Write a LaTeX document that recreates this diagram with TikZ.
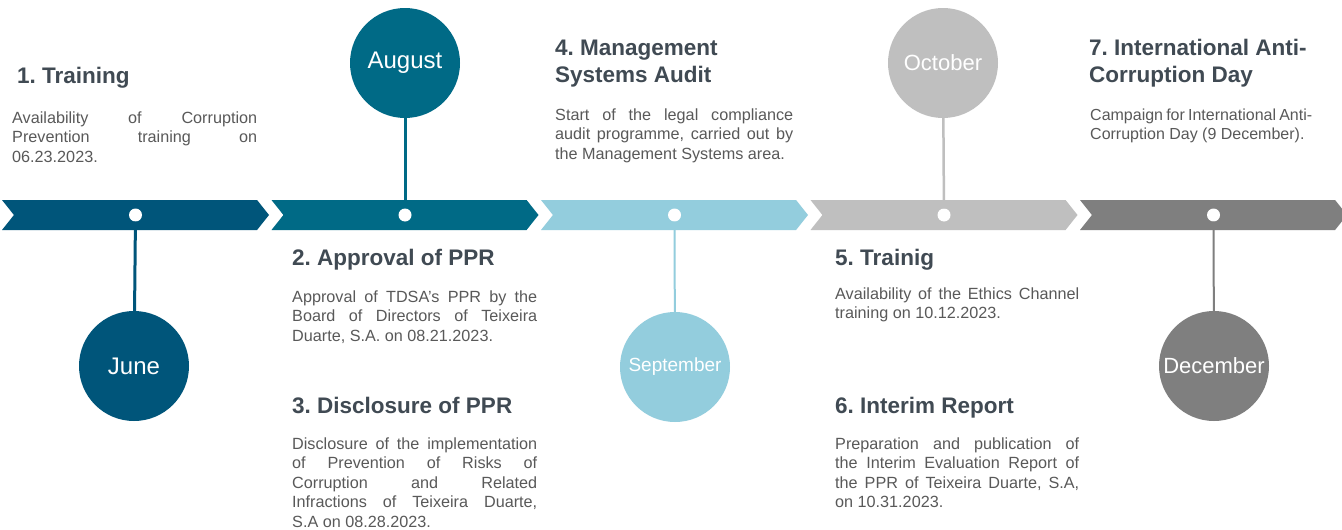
\documentclass[tikz,border=0pt]{standalone}
\usepackage{fontspec}
\setmainfont{Liberation Sans}
\usepackage{tikz}
\definecolor{junecol}{HTML}{00557A}
\definecolor{augcol}{HTML}{006A86}
\definecolor{sepcol}{HTML}{93CDDD}
\definecolor{octcol}{HTML}{BFBFBF}
\definecolor{deccol}{HTML}{7F7F7F}
\definecolor{headgrey}{HTML}{404A53}
\definecolor{textgrey}{HTML}{595959}
\usetikzlibrary{shapes}
\tikzstyle{chev}=[signal, signal from=west, signal to=east, signal pointer angle=103, minimum width=267pt, minimum height=30pt, inner sep=0pt]
\tikzstyle{dot}=[circle, fill=white, minimum size=13pt, inner sep=0pt]
\tikzstyle{month}=[circle, minimum size=110pt, inner sep=0pt, text=white]
\tikzstyle{stem}=[line width=3pt]
\tikzstyle{head}=[anchor=base west, inner sep=0pt, text=headgrey, align=left, font={\bfseries\fontsize{22.5}{27}\selectfont}]
\tikzstyle{body}=[anchor=base west, inner sep=0pt, text=textgrey, align=justify, font={\fontsize{16.2}{19.5}\selectfont}]
\hyphenpenalty=10000
\tolerance=10000
\frenchspacing

\begin{document}
\begin{tikzpicture}[x=1pt, y=-1pt]

    \fill[white] (0,0) rectangle (1342,530);
    \useasboundingbox (0,0) rectangle (1342,530);

    % timeline
    \node[chev, fill=junecol] (bar1) at (135.5, 215) {};
    \node[chev, fill=augcol] (bar2) at (405, 215) {};
    \node[chev, fill=sepcol] (bar3) at (674.5, 215) {};
    \node[chev, fill=octcol] (bar4) at (944, 215) {};
    \node[chev, fill=deccol] (bar5) at (1213.5, 215) {};

    \node[dot] (dot1) at (bar1.center) {};
    \node[dot] (dot2) at (bar2.center) {};
    \node[dot] (dot3) at (bar3.center) {};
    \node[dot] (dot4) at (bar4.center) {};
    \node[dot] (dot5) at (bar5.center) {};

    % months
    \node[month, fill=junecol, font={\fontsize{24}{24}\selectfont}] (june) at (134, 366) {June};
    \node[month, fill=augcol, font={\fontsize{24}{24}\selectfont}] (august) at (405, 63) {August};
    \node[month, fill=sepcol, font={\fontsize{19}{19}\selectfont}] (september) at (675, 367) {September};
    \node[month, fill=octcol, font={\fontsize{22}{22}\selectfont}] (october) at (943, 63) {October};
    \node[month, fill=deccol, font={\fontsize{22}{22}\selectfont}] (december) at (1214, 366) {December};

    \draw[stem, draw=junecol] (june) -- (dot1);
    \draw[stem, draw=augcol] (august) -- (dot2);
    \draw[stem, draw=sepcol, line width=2pt] (september) -- (dot3);
    \draw[stem, draw=octcol, line width=2.5pt] (october) -- (dot4);
    \draw[stem, draw=deccol, line width=2pt] (december) -- (dot5);

    % texts
    \node[head] (train) at (17, 83) {1. Training};
    \node[body, text width=245pt] (traintxt) at (12, 123) {Availability of Corruption\linebreak Prevention training on\linebreak 06.23.2023.};

    \node[head] (approval) at (292, 265) {2. Approval of PPR};
    \node[body, text width=245pt] (approvaltxt) at (292, 302) {Approval of TDSA's PPR by the\linebreak Board of Directors of Teixeira\linebreak Duarte, S.A. on 08.21.2023.};

    \node[head] (disclosure) at (292, 413) {3. Disclosure of PPR};
    \node[body, text width=245pt] (disclosuretxt) at (292, 449) {Disclosure of the implementation\linebreak of Prevention of Risks of\linebreak Corruption and Related\linebreak Infractions of Teixeira Duarte,\linebreak S.A on 08.28.2023.};

    \node[head] (audit) at (555, 82) {4. Management\\Systems Audit};
    \node[body, text width=238pt] (audittxt) at (555, 120) {Start of the legal compliance\linebreak audit programme, carried out by\linebreak the Management Systems area.};

    \node[head] (ethics) at (835, 265) {5. Trainig};
    \node[body, text width=244pt] (ethicstxt) at (835, 299) {Availability of the Ethics Channel\linebreak training on 10.12.2023.};

    \node[head] (interim) at (835, 413) {6. Interim Report};
    \node[body, text width=244pt] (interimtxt) at (835, 449) {Preparation and publication of\linebreak the Interim Evaluation Report of\linebreak the PPR of Teixeira Duarte, S.A,\linebreak on 10.31.2023.};

    \node[head] (antic) at (1089, 82) {7. International Anti-\\Corruption Day};
    \node[body, text width=222pt, font={\fontsize{16}{19.5}\selectfont}] (antictxt) at (1090, 120) {Campaign for International Anti-\linebreak Corruption Day (9 December).};

\end{tikzpicture}
\end{document}
